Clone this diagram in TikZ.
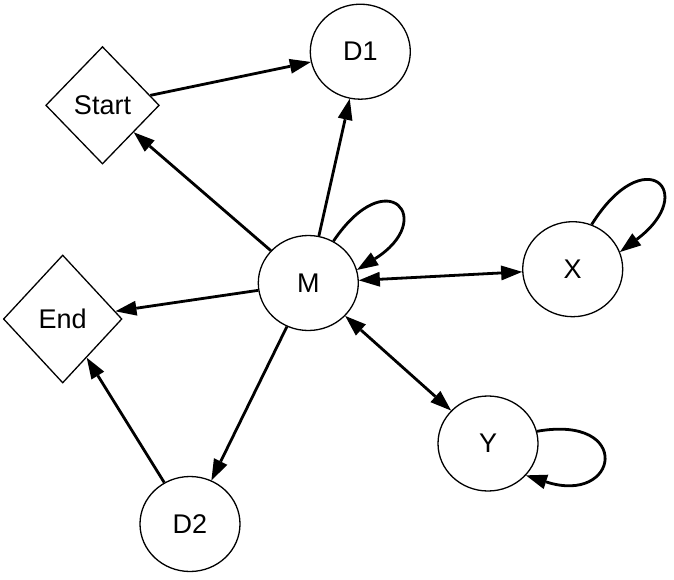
\documentclass[tikz,border=0pt]{standalone}
\usepackage{fontspec}
\setmainfont{Liberation Sans}
\usetikzlibrary{shapes.geometric,arrows.meta}
\begin{document}
\begin{tikzpicture}[x=1pt,y=-1pt,
  lbl/.style={font=\fontsize{27}{32}\selectfont},
  circ/.style={ellipse,draw,line width=1.3pt,minimum width=100pt,minimum height=95pt,inner sep=0pt,lbl},
  dia/.style={diamond,draw,line width=1.3pt,inner sep=0pt,lbl},
  arr/.style={line width=2.8pt,-{Triangle[length=21pt,width=15pt,line width=0pt]}},
  darr/.style={line width=2.8pt,{Triangle[length=21pt,width=15pt,line width=0pt]}-{Triangle[length=21pt,width=15pt,line width=0pt]}}]
\useasboundingbox (0,0) rectangle (674,580);
\node[circ] (D1) at (360.3,51.7) {D1};
\node[dia, minimum width=113.6pt, minimum height=117.4pt] (Start) at (102.5,105.3) {Start};
\node[circ] (M) at (308.3,283) {M};
\node[circ] (X) at (572.7,269.2) {X};
\node[dia, minimum width=118.6pt, minimum height=128pt] (End) at (62.7,319) {End};
\node[circ] (Y) at (488,443.5) {Y};
\node[circ] (D2) at (190,524) {D2};
\draw[arr] (Start) -- (D1);
\draw[arr] (M) -- (D1);
\draw[arr] (M) -- (Start);
\draw[arr] (M) -- (End);
\draw[arr] (M) -- (D2);
\draw[arr] (D2) -- (End);
\draw[darr] (M) -- (X);
\draw[darr] (M) -- (Y);
\draw[arr] (M.59) .. controls +(56:97pt) and +(32:95pt) .. (M.15);
\draw[arr] (X.67) .. controls +(58:100pt) and +(37:100pt) .. (X.20);
\draw[arr] (Y.14) .. controls +(10:98pt) and +(-18:98pt) .. (Y.-40);
\end{tikzpicture}
\end{document}
